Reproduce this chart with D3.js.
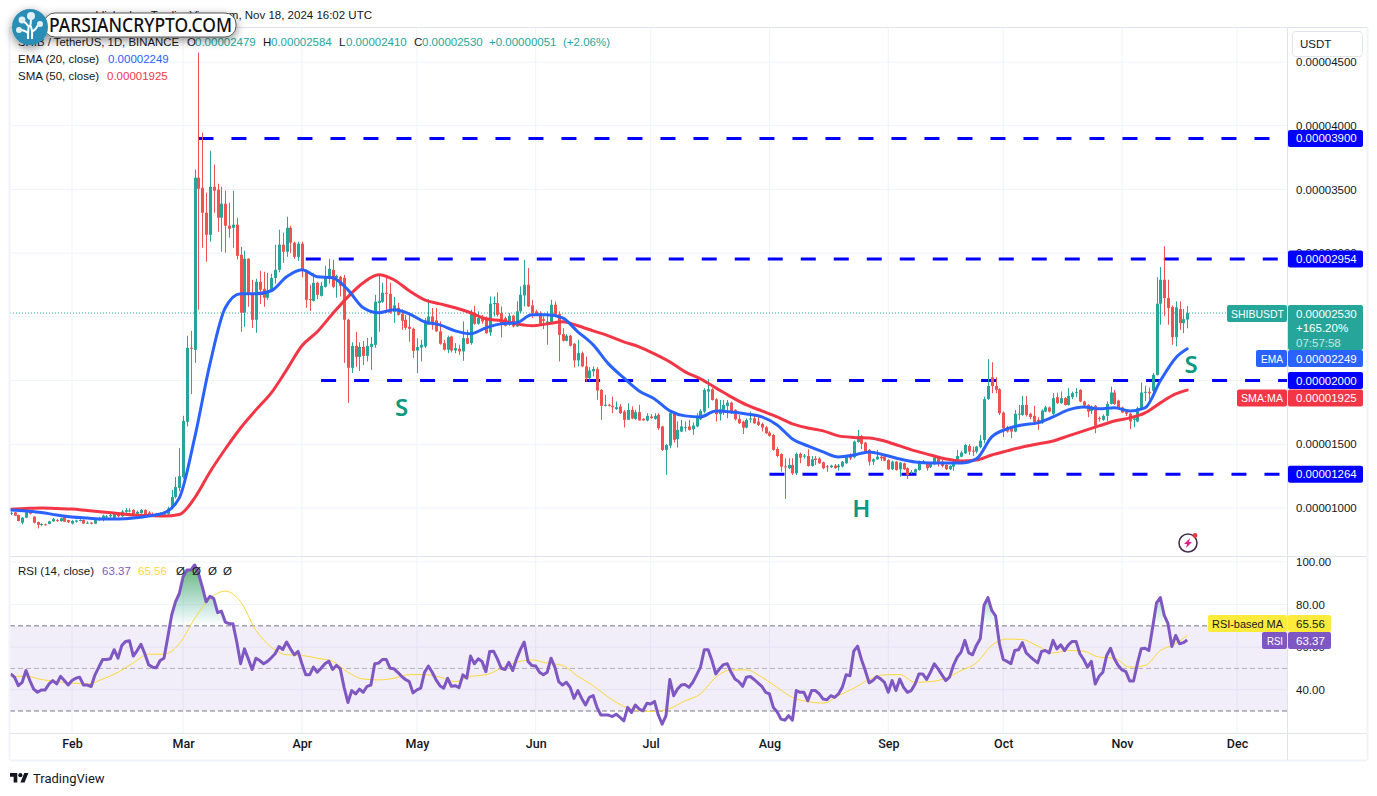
<!DOCTYPE html>
<html><head><meta charset="utf-8">
<script src="https://cdn.jsdelivr.net/npm/d3@7/dist/d3.min.js"></script>
<style>html,body{margin:0;padding:0;background:#fff}svg{display:block}</style>
</head><body><svg id="c" width="1377" height="796"></svg>
<script>
// Prices are in units of 0.00000001 USDT. One line per month: Jan 16 2024 ... Nov 18 2024.
const startDay = "2024-01-16";
const priceUnit = 1e-8;
const opens = [
958,966,945,885,924,976,932,890,868,872,875,895,905,897,935,905,
879,893,900,906,880,885,878,905,905,925,935,920,965,935,970,975,985,955,960,985,965,955,955,940,950,955,1000,1086,1157,
1243,1677,2257,2241,3592,3513,3317,3144,3521,3498,3278,3388,3215,3199,3223,2987,2532,2956,2673,2477,2775,2720,2650,2704,2806,2869,3066,3011,3199,3082,2971,
3074,2862,2640,2626,2767,2665,2736,2806,2869,2806,2814,2806,2477,2100,2272,2186,2264,2194,2264,2280,2610,2618,2689,2681,2540,2571,2524,2477,2422,2406,
2236,2260,2268,2438,2503,2472,2386,2294,2242,2346,2236,2250,2229,2333,2294,2530,2446,2490,2490,2378,2600,2608,2530,2490,2438,2509,2425,2543,2668,2752,2590,
2543,2530,2482,2446,2456,2595,2524,2364,2312,2352,2289,2158,2215,2111,2019,2073,2090,1927,1802,1810,1802,1776,1796,1757,1692,1770,1700,1752,1700,1687,
1718,1700,1731,1640,1456,1490,1739,1540,1600,1630,1640,1618,1640,1696,1757,1914,1932,1853,1736,1770,1801,1827,1770,1699,1678,1631,1694,1704,1678,1660,1633,
1592,1573,1463,1424,1327,1312,1338,1272,1424,1406,1408,1330,1388,1388,1359,1327,1320,1333,1320,1325,1351,1408,1398,1518,1566,1513,1456,1364,1382,1403,1403,
1377,1304,1364,1304,1351,1312,1275,1278,1298,1362,1351,1320,1343,1398,1364,1338,1304,1325,1364,1403,1429,1487,1450,1443,1477,1534,1856,2026,1958,1932,
1749,1634,1631,1600,1737,1731,1809,1739,1723,1692,1671,1757,1789,1739,1870,1823,1862,1809,1870,1903,1927,1836,1809,1762,1802,1705,1692,1723,1817,1906,1843,
1789,1757,1739,1692,1679,1783,1906,1912,1920,2045,2603,2791,2647,2577,2341,2561,2451,2479];
const highs = [
972,968,948,930,985,985,935,892,880,878,900,922,915,925,940,908,
905,908,912,910,895,890,908,930,948,945,962,965,968,985,1000,998,990,980,992,990,975,965,962,965,975,1010,1141,1243,1471,
1723,2351,2390,3655,4574,3945,3474,3804,3694,3545,3521,3490,3396,3490,3278,3050,3019,2960,2791,2799,2862,2854,2846,2838,3066,3184,3160,3286,3215,3090,3090,
3090,2870,2752,2846,2775,2775,2901,2956,2948,2830,2822,2830,2485,2300,2383,2300,2310,2335,2343,2673,2830,2767,2806,2767,2657,2610,2560,2515,2515,2415,
2333,2320,2490,2639,2569,2569,2464,2320,2352,2352,2294,2281,2464,2399,2556,2587,2543,2516,2503,2660,2660,2692,2582,2503,2530,2516,2621,2739,2948,2883,2634,
2556,2543,2503,2543,2634,2621,2543,2412,2365,2359,2294,2320,2228,2189,2105,2111,2105,1933,1888,1817,1875,1836,1817,1770,1823,1797,1770,1810,1705,1744,
1736,1744,1744,1645,1501,1757,1744,1679,1692,1679,1692,1671,1744,1775,1940,2011,1940,1861,1848,1848,1848,1835,1775,1730,1686,1704,1757,1730,1730,1670,1644,
1602,1581,1477,1429,1390,1390,1390,1435,1435,1424,1461,1408,1408,1398,1364,1338,1340,1346,1346,1369,1416,1429,1529,1613,1573,1518,1461,1390,1456,1416,1408,
1382,1372,1369,1361,1356,1319,1298,1309,1372,1377,1356,1356,1414,1408,1377,1346,1335,1377,1456,1450,1503,1500,1482,1487,1573,1874,2168,2144,2026,1940,
1757,1645,1639,1770,1809,1880,1880,1749,1802,1713,1775,1802,1796,1901,1906,1914,1870,1940,1914,1940,1932,1841,1815,1804,1809,1718,1734,1836,1953,1927,1849,
1796,1765,1749,1713,1796,1985,1960,1945,2060,2810,2891,3053,2791,2590,2621,2621,2561,2584];
const lows = [
945,938,895,872,920,950,880,840,858,862,872,890,892,893,890,882,
870,885,895,875,875,872,875,900,895,915,920,910,925,930,960,965,935,945,955,930,930,935,935,930,945,945,990,1075,1130,
1230,1640,1895,2139,2555,3042,2932,3090,3317,3168,3011,3003,3121,3042,2950,2383,2422,2579,2414,2375,2600,2579,2634,2695,2760,2850,2924,2971,3000,2956,2940,
2810,2571,2547,2620,2640,2660,2730,2760,2725,2650,2660,2139,1825,2060,2108,2076,2123,2150,2084,2257,2383,2610,2532,2525,2453,2510,2398,2398,2304,2178,
2058,2150,2255,2438,2399,2380,2281,2236,2215,2221,2215,2202,2155,2286,2281,2438,2438,2446,2367,2351,2503,2503,2338,2425,2430,2417,2420,2530,2582,2577,2490,
2511,2438,2404,2281,2451,2511,2150,2307,2307,2268,2103,2111,2105,1993,1993,2032,1849,1692,1797,1797,1744,1770,1739,1632,1692,1697,1692,1687,1687,1679,
1700,1692,1613,1448,1260,1469,1514,1474,1595,1600,1608,1574,1634,1691,1744,1783,1843,1678,1686,1730,1704,1738,1686,1660,1581,1626,1670,1660,1644,1600,1581,
1560,1450,1398,1285,1071,1306,1259,1259,1351,1388,1325,1325,1338,1346,1304,1285,1314,1306,1293,1319,1346,1377,1390,1513,1463,1437,1333,1338,1377,1369,1367,
1298,1298,1293,1246,1298,1228,1267,1272,1293,1356,1293,1314,1335,1325,1319,1298,1298,1293,1356,1398,1424,1416,1408,1429,1469,1508,1848,1901,1901,1730,
1556,1592,1548,1595,1692,1723,1718,1697,1665,1613,1660,1752,1749,1731,1817,1817,1804,1804,1854,1870,1830,1796,1713,1739,1587,1679,1684,1679,1812,1809,1778,
1744,1723,1618,1634,1673,1778,1840,1850,1890,2040,2438,2508,2438,2281,2268,2399,2372,2410];
const closes = [
962,940,898,924,976,955,885,868,874,870,895,913,897,919,893,888,
898,902,906,878,885,880,905,920,940,935,945,958,935,972,982,980,945,970,985,940,945,945,945,958,965,995,1086,1165,1250,
1683,2257,2250,3592,3505,3317,3144,3521,3490,3278,3388,3215,3191,3223,2979,2532,2956,2673,2477,2775,2712,2650,2704,2806,2869,3066,3011,3199,3082,2971,3074,
2862,2634,2632,2767,2673,2744,2814,2877,2736,2822,2744,2477,2100,2272,2186,2264,2194,2272,2288,2618,2626,2689,2681,2532,2590,2516,2469,2414,2406,2233,
2263,2281,2472,2503,2438,2386,2289,2242,2341,2236,2255,2229,2333,2289,2530,2446,2490,2464,2372,2603,2608,2516,2446,2430,2509,2425,2543,2674,2752,2582,2530,
2517,2446,2468,2464,2595,2516,2359,2312,2352,2273,2158,2215,2111,2019,2079,2090,1922,1802,1810,1802,1791,1791,1744,1692,1770,1702,1752,1687,1687,1723,
1705,1723,1626,1456,1495,1744,1535,1613,1640,1634,1613,1647,1710,1762,1927,1932,1848,1736,1775,1809,1827,1744,1696,1665,1631,1691,1702,1665,1652,1631,1586,
1566,1456,1408,1325,1320,1338,1272,1424,1395,1411,1330,1382,1377,1351,1312,1320,1333,1314,1333,1364,1408,1390,1521,1566,1503,1443,1364,1382,1403,1390,1372,
1304,1364,1298,1356,1304,1259,1283,1304,1364,1367,1312,1346,1398,1351,1330,1304,1330,1364,1408,1435,1495,1443,1445,1482,1529,1854,1958,1958,1927,1744,
1626,1600,1600,1739,1741,1809,1731,1713,1671,1671,1765,1789,1757,1862,1823,1862,1809,1880,1901,1909,1836,1804,1757,1796,1645,1697,1723,1817,1906,1817,1783,
1749,1739,1679,1702,1783,1906,1912,1900,2045,2603,2791,2647,2569,2341,2574,2451,2482,2530];

// RSI (14, close), one value a day, one line per month
const rsiValues = [
47.4,45.9,41.9,43.5,49,44.3,40.3,38.8,39.9,39.9,42.7,44.3,42.7,46.3,44.3,42.2,
44.3,45.4,45.9,42.2,42.2,41.5,47,50.6,54.2,54.2,54.5,58.8,54.8,60.8,62.7,63,55.8,58.4,61.3,56.9,51.7,50.6,50.3,53.7,54.8,64.7,75,81.3,85.2,
93.1,96.2,96.2,98.6,94.6,88.3,81.3,83.9,82.8,76.2,76.9,71.8,71,71,62.4,52.2,59.2,54.5,49.5,54.8,53.7,52.2,53.3,55,56.9,60.3,58.9,62.4,59.2,56.4,58,
52.2,47,47,50.6,48.2,50.1,52.2,53.4,49.5,51.4,49.8,41.1,34,39.6,38,40.3,38.8,41.6,42.2,52.2,52.5,54.2,54.2,50.1,49.8,48.2,46.3,44.8,43.8,38.5,
39.9,40.7,48.2,51.1,48.2,44.6,41.9,40.7,45.4,41.6,41.9,41,47,45.4,55.8,52.2,54.5,53.3,48.5,58,58.1,54.5,50.1,49.5,52.9,49,54.5,58.8,62.4,53.3,51.4,
51.1,48.2,47,48.2,54.8,50.6,43.8,42.2,43.5,41.1,35.9,39.6,35.9,32.8,36.4,37.2,31.7,28.1,28.1,28.1,27.4,28.5,27,25.4,31.7,29.3,32.8,30.9,30.1,33.6,
33.3,34.5,28.1,23.8,27.8,44.8,37.2,40.3,42.2,42.4,41.1,43.5,47,50.6,58.8,58.8,53.7,47.4,49.8,51.8,52.2,48.2,45,43.8,41.6,45.9,46.2,44.8,43.2,41.6,38.8,
38,31.7,29.6,26.2,25.7,27.8,25.7,39.6,38.8,38.8,34.8,39.6,39.6,38,35.6,35.3,37.2,36.4,38,41.1,47,46.6,58.1,60.5,54.2,49,43.2,44.3,46.2,45.1,43.5,
38.8,44.3,39.6,45,41.1,38.8,39.6,42.7,47.4,47.4,44.8,48.2,52.2,49.8,47,44.3,45.9,51.4,55.3,57.7,63.2,57.3,56.4,60.8,63.9,79.7,83.3,77.3,74.7,61.6,
54.2,53.3,52.2,58.4,58.8,62.1,57.3,55.6,54,52.6,58,58.4,57.3,63.2,59.2,61.1,58.4,61.1,62.7,62.7,56.9,54.2,50.6,53.3,42.7,46.3,48.2,56.1,59.5,54.5,51.4,
49.3,48.5,44.1,44.1,52.2,59.2,59.5,58.4,69.5,80.8,83.3,75,71,60.3,65.5,61.6,62.1,63.37];

// Smooth lines at these day numbers (days after Jan 16)
const lineDays = [0,4,8,12,16,20,24,28,32,36,40,44,48,52,56,60,64,68,72,76,80,84,88,92,96,100,104,108,112,116,120,124,128,132,136,140,144,148,152,156,160,164,168,172,176,180,184,188,192,196,200,204,208,212,216,220,224,228,232,236,240,244,248,252,256,260,264,268,272,276,280,284,288,292,296,300,304,307];
const emaValues = [984,976,965,945,929,921,914,914,921,937,961,1079,1550,2131,2571,2681,2681,2705,2815,2870,2815,2807,2712,2571,2532,2555,2524,2461,2437,2390,2367,2414,2445,2453,2516,2516,2492,2383,2280,2131,2021,1919,1856,1762,1723,1715,1762,1754,1738,1715,1652,1542,1487,1440,1401,1416,1440,1416,1385,1361,1353,1353,1353,1385,1558,1621,1652,1668,1715,1770,1793,1778,1786,1762,1786,1998,2178,2249];
const smaValues = [990,996,1000,996,992,980,969,957,945,941,937,949,1079,1283,1463,1628,1770,1903,2084,2273,2383,2524,2657,2767,2830,2791,2705,2634,2602,2571,2532,2485,2469,2445,2430,2445,2461,2430,2390,2351,2304,2265,2210,2147,2068,2013,1943,1872,1809,1762,1715,1660,1628,1605,1566,1554,1550,1526,1487,1448,1416,1385,1369,1377,1416,1448,1479,1503,1526,1566,1605,1644,1683,1707,1746,1825,1895,1925];
const rsiMaValues = [46.3,46.3,44.8,43.8,43.2,42.7,45,48.2,52.6,56.7,56.7,61.6,73.4,82.8,86.3,81.3,67.9,60,56.4,56.1,54.8,53.3,48.2,45,44.6,45.4,47.1,47.1,45.9,43.8,46.3,47,50.1,52.9,54,52.5,51.4,46.3,41.9,36.4,32.2,30.1,29.8,31.2,34.8,38,45.9,49.3,49.3,45.9,41.1,36.4,34.4,33.7,37.2,40.7,44.8,47,47.1,43.5,43.8,45.4,49,52.6,60.8,63.8,63.6,60.5,57.3,58.4,58.1,55.3,54.8,50.6,51.4,58.4,61.6,65.56];

// Horizontal levels (start date, price)
const levelPrices = [3900,2954,2000,1264];
const levelStarts = ["2024-03-05","2024-04-02","2024-04-06","2024-08-01"];
const priceTicks = [1000,1500,2000,2500,3000,3500,4000,4500];
const rsiTicks = [40,60,80,100];
const monthTicks = ["2024-02-01","2024-03-01","2024-04-01","2024-05-01","2024-06-01","2024-07-01","2024-08-01","2024-09-01","2024-10-01","2024-11-01","2024-12-01"];
const patternLabels = ["S","H","S"];
const patternDates = ["2024-04-27","2024-08-25","2024-11-19"];
const patternPrices = [1790,1000,2125];

const C = {up:"#26a69a",down:"#ef5350",ema:"#2962ff",sma:"#f23645",rsi:"#7e57c2",ma:"#fdd835",level:"#0000ff",grid:"#f0f3fa",line:"#e0e3eb",text:"#131722",teal:"#089981"};
const FONT = "'Liberation Sans',Arial,sans-serif";
const FS = 11.5;
const L = 10, R = 1287, TOP = 27, PB = 556, RB = 733, TB = 760, OUT = 1367;

const svg = d3.select("#c").style("font-family",FONT);
const defs = svg.append("defs");
const parse = d3.utcParse("%Y-%m-%d");
const d0 = parse(startDay);
const dayDate = i => d3.utcDay.offset(d0,i);
const x = d3.scaleUtc().domain([parse("2024-02-01"),parse("2024-12-01")]).range([72,1237]);
const y = d3.scaleLinear().domain([1000,4500]).range([508,62]);
const yR = d3.scaleLinear().domain([30,100]).range([711,562]);
const fmtP = v => (v*priceUnit).toFixed(8);

defs.append("clipPath").attr("id","pc").append("rect").attr("x",L).attr("y",TOP).attr("width",R-L).attr("height",PB-TOP);
defs.append("clipPath").attr("id","rc").append("rect").attr("x",L).attr("y",PB).attr("width",R-L).attr("height",RB-PB);
defs.append("clipPath").attr("id","ob").append("rect").attr("x",L).attr("y",PB).attr("width",R-L).attr("height",yR(70)-PB);
const grad = defs.append("linearGradient").attr("id","ob-g").attr("gradientUnits","userSpaceOnUse").attr("x1",0).attr("x2",0).attr("y1",yR(100)).attr("y2",yR(70));
grad.append("stop").attr("offset",0).attr("stop-color","#43a047").attr("stop-opacity",.85);
grad.append("stop").attr("offset",1).attr("stop-color","#26a69a").attr("stop-opacity",0);
const sh = defs.append("filter").attr("id","sh").attr("x","-20%").attr("y","-80%").attr("width","140%").attr("height","260%");
sh.append("feDropShadow").attr("dx",0).attr("dy",3).attr("stdDeviation",5).attr("flood-color","#000").attr("flood-opacity",.45);

// frame background
const months = monthTicks.map(parse);
svg.append("g").selectAll("line").data(months).join("line")
  .attr("x1",d=>x(d)).attr("x2",d=>x(d)).attr("y1",TOP).attr("y2",RB).attr("stroke",C.grid);
svg.append("g").selectAll("line").data(priceTicks).join("line")
  .attr("x1",L).attr("x2",R).attr("y1",d=>y(d)).attr("y2",d=>y(d)).attr("stroke",C.grid);
svg.append("g").selectAll("line").data(rsiTicks).join("line")
  .attr("x1",L).attr("x2",R).attr("y1",d=>yR(d)).attr("y2",d=>yR(d)).attr("stroke",C.grid);

// price pane
const pane = svg.append("g").attr("clip-path","url(#pc)");
pane.append("line").attr("x1",L).attr("x2",1227).attr("y1",y(closes[closes.length-1])).attr("y2",y(closes[closes.length-1]))
  .attr("stroke",C.up).attr("stroke-dasharray","1 2");
pane.append("g").selectAll("line").data(levelPrices).join("line")
  .attr("x1",(d,i)=>x(parse(levelStarts[i]))).attr("x2",R).attr("y1",d=>y(d)).attr("y2",d=>y(d))
  .attr("stroke",C.level).attr("stroke-width",3).attr("stroke-dasharray","15 18");
const idx = d3.range(closes.length);
const col = i => closes[i]>=opens[i]?C.up:C.down;
pane.append("g").selectAll("line").data(idx).join("line")
  .attr("x1",i=>Math.round(x(dayDate(i)))+.5).attr("x2",i=>Math.round(x(dayDate(i)))+.5)
  .attr("y1",i=>y(highs[i])).attr("y2",i=>y(lows[i])).attr("stroke",col);
pane.append("g").selectAll("rect").data(idx).join("rect")
  .attr("x",i=>Math.round(x(dayDate(i)))-1).attr("width",3)
  .attr("y",i=>y(Math.max(opens[i],closes[i])))
  .attr("height",i=>Math.max(1,Math.abs(y(opens[i])-y(closes[i])))).attr("fill",col);
const lp = (vals,ys) => d3.line().x((d,i)=>x(dayDate(lineDays[i]))).y(d=>ys(d)).curve(d3.curveMonotoneX)(vals);
pane.append("path").attr("d",lp(smaValues,y)).attr("fill","none").attr("stroke",C.sma).attr("stroke-width",3).attr("stroke-linejoin","round").attr("stroke-linecap","round");
pane.append("path").attr("d",lp(emaValues,y)).attr("fill","none").attr("stroke",C.ema).attr("stroke-width",3).attr("stroke-linejoin","round").attr("stroke-linecap","round");
svg.append("g").selectAll("text").data(patternLabels).join("text").text(d=>d)
  .attr("x",(d,i)=>x(parse(patternDates[i]))).attr("y",(d,i)=>y(patternPrices[i]))
  .attr("text-anchor","middle").attr("dy",".36em").attr("font-size",24).attr("font-family","'Noto Sans',sans-serif").attr("font-weight",600).attr("fill",C.teal);

// lightning badge
const bolt = svg.append("g").attr("transform","translate(1188,543)");
bolt.append("circle").attr("r",9).attr("fill","none").attr("stroke","#43304e").attr("stroke-width",1.6);
bolt.append("path").attr("d","M2-5L-4 1H-1L-2 5L4-1H1Z").attr("fill","#e0218a");
bolt.append("circle").attr("cx",7).attr("cy",-7.5).attr("r",2.4).attr("fill","#f23645");

// RSI pane
const rp = svg.append("g").attr("clip-path","url(#rc)");
rp.append("rect").attr("x",L).attr("width",R-L).attr("y",yR(70)).attr("height",yR(30)-yR(70)).attr("fill",C.rsi).attr("fill-opacity",.1);
const rsiLevels = [70,50,30], rsiLevelOp = [1,.55,1];
rp.append("g").selectAll("line").data(rsiLevels).join("line")
  .attr("x1",L).attr("x2",R).attr("y1",d=>yR(d)).attr("y2",d=>yR(d)).attr("stroke","#787b86")
  .attr("stroke-opacity",(d,i)=>rsiLevelOp[i]).attr("stroke-dasharray","5 3");
rp.append("path").attr("clip-path","url(#ob)").attr("fill","url(#ob-g)")
  .attr("d",d3.area().x((d,i)=>x(dayDate(i))).y0(yR(70)).y1(d=>yR(d))(rsiValues));
rp.append("path").attr("d",lp(rsiMaValues,yR)).attr("fill","none").attr("stroke",C.ma).attr("stroke-width",1);
rp.append("path").attr("d",d3.line().x((d,i)=>x(dayDate(i))).y(d=>yR(d))(rsiValues)).attr("fill","none").attr("stroke",C.rsi).attr("stroke-width",3).attr("stroke-linejoin","round");

// borders
const hb = [[L,OUT,TOP],[L,OUT,PB],[L,OUT,RB]];
svg.append("g").selectAll("line").data(hb).join("line").attr("x1",d=>d[0]).attr("x2",d=>d[1]).attr("y1",d=>d[2]+.5).attr("y2",d=>d[2]+.5).attr("stroke",C.line);
svg.append("line").attr("x1",L).attr("x2",OUT).attr("y1",TB+.5).attr("y2",TB+.5).attr("stroke",C.grid).attr("stroke-width",2);
svg.append("line").attr("x1",OUT+.5).attr("x2",OUT+.5).attr("y1",TOP).attr("y2",TB).attr("stroke",C.grid).attr("stroke-width",2);
svg.append("line").attr("x1",L-.5).attr("x2",L-.5).attr("y1",TOP).attr("y2",TB).attr("stroke",C.grid).attr("stroke-width",2);
svg.append("line").attr("x1",R+.5).attr("x2",R+.5).attr("y1",TOP).attr("y2",TB).attr("stroke",C.line);

// axes
const styleAxis = g => { g.select(".domain").remove(); g.selectAll(".tick line").remove(); g.selectAll("text").attr("fill",C.text).attr("font-family",FONT).attr("font-size",FS); };
// ticks hidden behind the level and price boxes in the reference stay underneath those boxes
svg.append("g").attr("transform",`translate(${R+9},0)`).call(d3.axisRight(y).tickValues(priceTicks).tickSize(0).tickPadding(0).tickFormat(fmtP)).call(styleAxis);
svg.append("g").attr("transform",`translate(${R+9},0)`).call(d3.axisRight(yR).tickValues(rsiTicks).tickSize(0).tickPadding(0).tickFormat(d3.format(".2f"))).call(styleAxis);
svg.append("g").attr("transform",`translate(0,${RB+3})`).call(d3.axisBottom(x).tickValues(months).tickSize(0).tickFormat(d3.utcFormat("%b"))).call(styleAxis)
  .selectAll("text").attr("font-family","Roboto,sans-serif").attr("font-weight",500).attr("font-size",12.5);

// price-scale boxes
function box(x0,x1,yc,h,fill,txt,tcol,anchorX,tl){
  const g = svg.append("g");
  g.append("rect").attr("x",x0).attr("y",yc-h/2).attr("width",x1-x0).attr("height",h).attr("rx",2).attr("fill",fill);
  if(txt){ const t = g.append("text").text(txt).attr("x",anchorX).attr("y",yc).attr("dy",".35em").attr("font-size",FS).attr("fill",tcol);
    if(tl) t.attr("textLength",tl).attr("lengthAdjust","spacingAndGlyphs"); }
}
const usdt = svg.append("g");
usdt.append("rect").attr("x",1292.5).attr("y",31.5).attr("width",70).attr("height",25).attr("rx",3).attr("fill","#fff").attr("stroke",C.line);
usdt.append("text").text("USDT").attr("x",1300).attr("y",44).attr("dy",".35em").attr("font-size",FS).attr("fill",C.text);
const lastC = closes[closes.length-1], lastE = emaValues[emaValues.length-1], lastS = smaValues[smaValues.length-1];
levelPrices.forEach(v=>box(R+1,1363,y(v),17,C.level,fmtP(v),"#fff",R+9));
box(R+1,1363,327.5,45,C.up,null);
svg.append("g").selectAll("text").data([fmtP(lastC),"+165.20%","07:57:58"]).join("text").text(d=>d)
  .attr("x",R+9).attr("y",(d,i)=>313.5+i*14.5).attr("dy",".35em").attr("font-size",FS).attr("fill",(d,i)=>i==2?"#c8e6e2":"#fff");
box(1227,R,313.5,17,C.up,"SHIBUSDT","#fff",1231,53);
box(1256,R,358.5,17,"#2962ff","EMA","#fff",1261,22);
box(R+1,1363,358.5,17,"#2962ff",fmtP(lastE),"#fff",R+9);
box(1237,R,398,17,C.sma,"SMA:MA","#fff",1241,42);
box(R+1,1363,398,17,C.sma,fmtP(lastS),"#fff",R+9);
const rsiLast = rsiValues[rsiValues.length-1], maLast = rsiMaValues[rsiMaValues.length-1];
box(1208,R,623.5,17,"#ffeb3b","RSI-based MA",C.text,1212,71);
box(R+1,1331,623.5,17,"#ffeb3b",maLast.toFixed(2),C.text,R+9);
box(1262,R,640.5,17,C.rsi,"RSI","#fff",1267,16);
box(R+1,1331,640.5,17,C.rsi,rsiLast.toFixed(2),"#fff",R+9);

// header + legends
svg.append("text").text("published on TradingView.com, Nov 18, 2024 16:02 UTC").attr("x",372).attr("y",19).attr("text-anchor","end").attr("font-size",FS).attr("fill",C.text);
function legend(yp,parts){ parts.forEach(p=>{ const t = svg.append("text").text(p[1]).attr("x",p[0]).attr("y",yp).attr("font-size",FS).attr("fill",p[2]); if(p[3]) t.attr("textLength",p[3]).attr("lengthAdjust","spacingAndGlyphs"); }); }
const g1 = C.up;
const last = closes.length-1;
const chg = closes[last]-opens[last];
legend(46,[[18,"SHIB / TetherUS, 1D, BINANCE",C.text,161],[187,"O",C.text],[195,fmtP(opens[last]),g1],[263,"H",C.text],[271,fmtP(highs[last]),g1],[339,"L",C.text],[346,fmtP(lows[last]),g1],[414,"C",C.text],[422,fmtP(closes[last]),g1],[489,"+"+fmtP(chg),g1],[563,"(+2.06%)",g1]]);
legend(63,[[18,"EMA (20, close)",C.text],[108,fmtP(lastE),C.ema]]);
legend(80,[[18,"SMA (50, close)",C.text],[107,fmtP(lastS),C.sma]]);
legend(575,[[18,"RSI (14, close)",C.text],[102,rsiLast.toFixed(2),C.rsi],[138,maLast.toFixed(2),C.ma],[176,"Ø",C.text],[192,"Ø",C.text],[208,"Ø",C.text],[223,"Ø",C.text]]);

// watermark badge
const wm = svg.append("g").attr("filter","url(#sh)");
wm.append("rect").attr("x",44).attr("y",13).attr("width",192).attr("height",24).attr("rx",11).attr("fill","#fff").attr("stroke","#333").attr("stroke-width",.8);
wm.append("circle").attr("cx",30).attr("cy",27).attr("r",18).attr("fill","#2a8db5");
const logo = svg.append("g").attr("transform","translate(30,27)").attr("stroke","#fff").attr("fill","none");
logo.append("path").attr("d","M-2 12C-2 6 -2 2 -1 -2M2 12C2 6 3 2 0 -2M-2 6C-5 4 -7 3 -9 3M2 5C5 3 7 1 8 -2M-1 0C-3 -3 -5 -5 -7 -6M0 0C1 -4 1 -7 1 -9").attr("stroke-width",2);
const dots = [[-11,3,3],[10,-3,3],[-8,-7,3.4],[1,-11,4]];
logo.selectAll("circle").data(dots).join("circle").attr("cx",d=>d[0]).attr("cy",d=>d[1]).attr("r",d=>d[2]).attr("fill","#dff1f7").attr("stroke","none");
svg.append("text").text("PARSIANCRYPTO.COM").attr("x",49).attr("y",32).attr("font-size",19).attr("textLength",183).attr("lengthAdjust","spacingAndGlyphs").attr("fill","#111").attr("font-family","'Noto Sans',sans-serif").attr("font-weight",500);

// footer
const tv = svg.append("g").attr("transform","translate(10,771) scale(.52)").attr("fill",C.text);
tv.append("path").attr("d","M14 22H7V11H0V4h14v18zM28 22h-8l7.5-18h8L28 22z");
tv.append("circle").attr("cx",20).attr("cy",8).attr("r",4);
svg.append("text").text("TradingView").attr("x",33).attr("y",783).attr("font-size",13).attr("font-family","Roboto,sans-serif").attr("font-weight",400).attr("fill",C.text);
</script></body></html>
